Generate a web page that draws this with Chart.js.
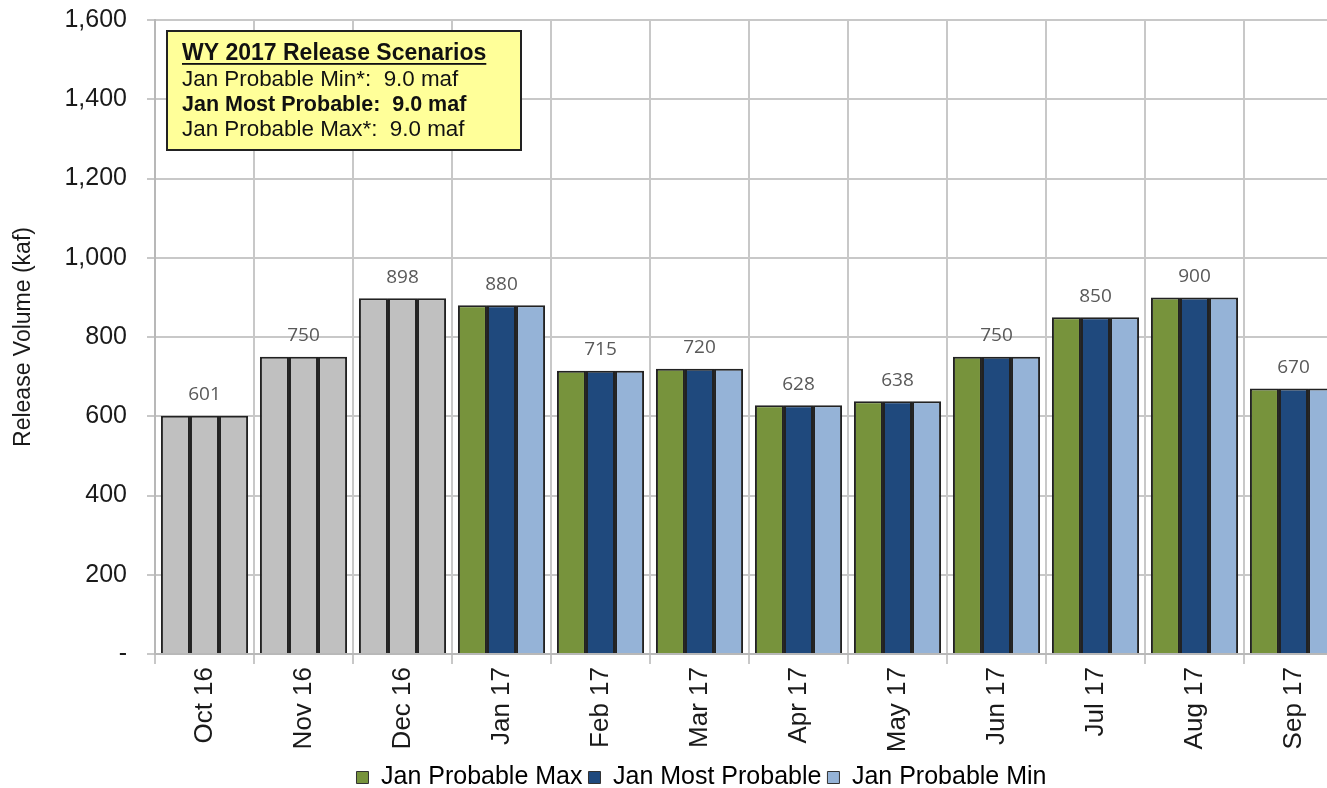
<!DOCTYPE html>
<html>
<head>
<meta charset="utf-8">
<script src="https://cdn.jsdelivr.net/npm/chart.js@4"></script>
<style>
  html, body { margin: 0; padding: 0; background: #fff; overflow: hidden; }
  #wrap { width: 1345px; height: 817px; position: relative; top: -15px; }
</style>
</head>
<body>
<div id="wrap"><canvas id="grafico"></canvas></div>
<script>
// dados
const meses = ['Oct 16', 'Nov 16', 'Dec 16', 'Jan 17', 'Feb 17', 'Mar 17', 'Apr 17', 'May 17', 'Jun 17', 'Jul 17', 'Aug 17', 'Sep 17'];
const probMax = [601, 750, 898, 880, 715, 720, 628, 638, 750, 850, 900, 670];
const maisProvavel = [601, 750, 898, 880, 715, 720, 628, 638, 750, 850, 900, 670];
const probMin = [601, 750, 898, 880, 715, 720, 628, 638, 750, 850, 900, 670];
const rotulos = [601, 750, 898, 880, 715, 720, 628, 638, 750, 850, 900, 670];
const mesesHistoricos = 3;

const cinza = '#C0C0C0';
const cores = ['#77933C', '#1F497D', '#95B3D7'];
const deslocamento = 15; // o canvas começa acima da página

function cor(c) {
    return function (ctx) {
        if (ctx.type === 'data' && ctx.dataIndex < mesesHistoricos) return cinza;
        return c;
    };
}

// rótulos acima de cada grupo
const rotulosPlugin = {
    id: 'rotulos',
    afterDatasetsDraw(chart) {
        const ctx = chart.ctx;
        const x = chart.scales.x, y = chart.scales.y;
        ctx.save();
        ctx.font = '19px "Open Sans"';
        ctx.fillStyle = '#595959';
        ctx.textAlign = 'center';
        ctx.textBaseline = 'middle';
        rotulos.forEach((v, i) => {
            ctx.fillText(v, x.getPixelForValue(i), y.getPixelForValue(v) - 21);
        });
        ctx.restore();
    }
};

// caixa amarela (coordenadas da página)
const caixaPlugin = {
    id: 'caixa',
    afterDatasetsDraw(chart) {
        const ctx = chart.ctx;
        ctx.save();
        ctx.translate(0, deslocamento);
        ctx.fillStyle = '#FFFF99';
        ctx.strokeStyle = '#222';
        ctx.lineWidth = 2;
        ctx.fillRect(167, 31, 354, 119);
        ctx.strokeRect(167, 31, 354, 119);
        ctx.fillStyle = '#111';
        ctx.textBaseline = 'alphabetic';
        ctx.font = 'bold 23px "Liberation Sans"';
        ctx.fillText('WY 2017 Release Scenarios', 182, 60);
        const w = ctx.measureText('WY 2017 Release Scenarios').width;
        ctx.fillRect(182, 63, w, 1.8);
        ctx.font = '22.4px "Liberation Sans"';
        ctx.fillText('Jan Probable Min*:  9.0 maf', 182, 86);
        ctx.font = 'bold 21.5px "Liberation Sans"';
        ctx.fillText('Jan Most Probable:  9.0 maf', 182, 111);
        ctx.font = '22.4px "Liberation Sans"';
        ctx.fillText('Jan Probable Max*:  9.0 maf', 182, 136);
        ctx.restore();
    }
};

// legenda um pouco à direita, como no original
const legendaPlugin = {
    id: 'legendaDesloc',
    afterLayout(chart) {
        chart.legend.left += 26;
        chart.legend.right += 26;
    }
};

Chart.defaults.font.family = '"Liberation Sans", Arial, sans-serif';
Chart.defaults.color = '#222';

new Chart(document.getElementById('grafico'), {
    type: 'bar',
    data: {
        labels: meses,
        datasets: [{
            label: 'Jan Probable Max',
            data: probMax,
            backgroundColor: cor(cores[0]),
            borderColor: '#222',
            borderWidth: 2
        }, {
            label: 'Jan Most Probable',
            data: maisProvavel,
            backgroundColor: cor(cores[1]),
            borderColor: '#222',
            borderWidth: 2
        }, {
            label: 'Jan Probable Min',
            data: probMin,
            backgroundColor: cor(cores[2]),
            borderColor: '#222',
            borderWidth: 2
        }]
    },
    options: {
        responsive: true,
        maintainAspectRatio: false,
        animation: false,
        categoryPercentage: 0.88,
        barPercentage: 1.0,
        layout: {
            padding: { top: 0, right: 2, left: 8, bottom: 2 }
        },
        plugins: {
            legend: {
                position: 'bottom',
                labels: {
                    boxWidth: 12,
                    boxHeight: 12,
                    padding: 6,
                    color: '#222',
                    font: { size: 25 },
                    generateLabels(chart) {
                        return chart.data.datasets.map((ds, i) => ({
                            text: ds.label,
                            fillStyle: cores[i],
                            strokeStyle: '#333',
                            lineWidth: 1,
                            datasetIndex: i
                        }));
                    }
                }
            },
            tooltip: { enabled: false }
        },
        scales: {
            x: {
                grid: { offset: true, color: '#c8c8c8', lineWidth: 2, tickLength: 10 },
                border: { color: '#b8b8b8', width: 2 },
                ticks: {
                    minRotation: 90,
                    maxRotation: 90,
                    font: { size: 26 },
                    color: '#1a1a1a'
                },
                afterFit(scale) { scale.height = 105; }
            },
            y: {
                min: 0,
                max: 1600,
                grid: { color: '#c8c8c8', lineWidth: 2, tickLength: 8 },
                border: { color: '#b8b8b8', width: 2 },
                ticks: {
                    stepSize: 200,
                    font: { size: 25 },
                    color: '#1a1a1a',
                    padding: 20,
                    callback: (v) => v === 0 ? '-' : v.toLocaleString('en-US')
                },
                title: {
                    display: true,
                    text: 'Release Volume (kaf)',
                    font: { size: 23 },
                    color: '#1a1a1a',
                    padding: 2
                },
                afterFit(scale) { scale.width = 147; }
            }
        }
    },
    plugins: [rotulosPlugin, caixaPlugin, legendaPlugin]
});
</script>
</body>
</html>
